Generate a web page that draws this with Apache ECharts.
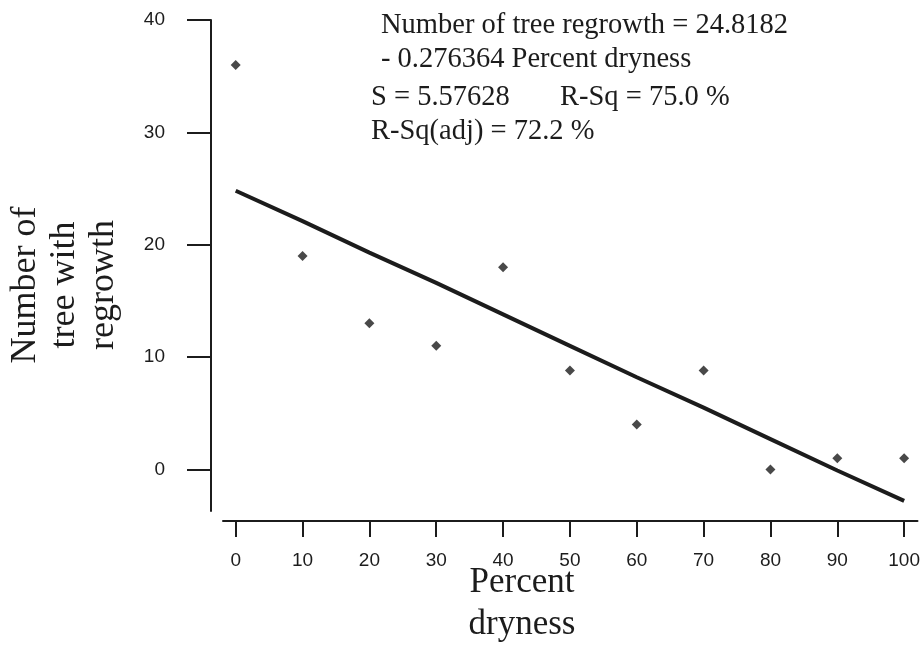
<!DOCTYPE html>
<html>
<head>
<meta charset="utf-8">
<script src="https://cdn.jsdelivr.net/npm/echarts@6/dist/echarts.min.js"></script>
<style>
html,body{margin:0;padding:0;background:#fff;}
#chart{width:923px;height:646px;}
</style>
</head>
<body>
<div id="chart"></div>
<script>
const dryness = [0, 10, 20, 30, 40, 50, 60, 70, 80, 90, 100];
const regrowth = [36, 19, 13, 11, 18, 8.8, 4, 8.8, 0, 1, 1];
const fitLine = [24.8, 22.1, 19.3, 16.6, 13.8, 11.0, 8.2, 5.5, 2.7, -0.1, -2.8];
const xTicks = [0, 10, 20, 30, 40, 50, 60, 70, 80, 90, 100];
const yTicks = [0, 10, 20, 30, 40];
const equationLines = [
  'Number of tree regrowth = 24.8182',
  '- 0.276364 Percent dryness',
  'S = 5.57628',
  'R-Sq = 75.0 %',
  'R-Sq(adj) = 72.2 %'
];
const xTitle = 'Percent\ndryness';
const yTitle = 'Number of\ntree with\nregrowth';

const ink = '#1c1c1c';
const serif = '"Liberation Serif", "Times New Roman", serif';
const sans = '"Liberation Sans", Arial, sans-serif';
const eqFont = '28.5px ' + serif;

const chart = echarts.init(document.getElementById('chart'));
chart.setOption({
  backgroundColor: '#ffffff',
  animation: false,
  grid: { left: 223, right: 5, top: 20, bottom: 135 },
  xAxis: {
    type: 'value',
    min: -1.9,
    max: 102,
    offset: 10,
    splitLine: { show: false },
    axisLine: { show: true, onZero: false, lineStyle: { color: ink, width: 2 } },
    axisTick: { show: true, inside: false, length: 16, customValues: xTicks, lineStyle: { color: ink, width: 2 } },
    axisLabel: { customValues: xTicks, margin: 30, color: ink, fontSize: 19, fontFamily: sans }
  },
  yAxis: {
    type: 'value',
    min: -3.7,
    max: 40,
    offset: 12,
    splitLine: { show: false },
    axisLine: { show: true, onZero: false, lineStyle: { color: ink, width: 2 } },
    axisTick: { show: true, inside: false, length: 24, customValues: yTicks, lineStyle: { color: ink, width: 2 } },
    axisLabel: { customValues: yTicks, margin: 46, color: ink, fontSize: 19, fontFamily: sans }
  },
  series: [
    {
      type: 'line',
      data: dryness.map((d, i) => [d, fitLine[i]]),
      showSymbol: false,
      symbol: 'none',
      lineStyle: { color: ink, width: 4 },
      z: 2
    },
    {
      type: 'scatter',
      data: dryness.map((d, i) => [d, regrowth[i]]),
      symbol: 'diamond',
      symbolSize: 10,
      itemStyle: { color: ink },
      z: 3
    }
  ],
  graphic: [
    { type: 'text', left: 381, top: 11, style: { text: equationLines[0], font: eqFont, fill: ink } },
    { type: 'text', left: 381, top: 45, style: { text: equationLines[1], font: eqFont, fill: ink } },
    { type: 'text', left: 371, top: 83, style: { text: equationLines[2], font: eqFont, fill: ink } },
    { type: 'text', left: 560, top: 83, style: { text: equationLines[3], font: eqFont, fill: ink } },
    { type: 'text', left: 371, top: 117, style: { text: equationLines[4], font: eqFont, fill: ink } },
    {
      type: 'text', x: 522, y: 604,
      style: { text: xTitle, font: '35px ' + serif, fill: ink, align: 'center', verticalAlign: 'middle', lineHeight: 42 }
    },
    {
      type: 'text', x: 65, y: 285, rotation: Math.PI / 2,
      style: { text: yTitle, font: '36px ' + serif, fill: ink, align: 'center', verticalAlign: 'middle', lineHeight: 39 }
    }
  ]
});
</script>
</body>
</html>
